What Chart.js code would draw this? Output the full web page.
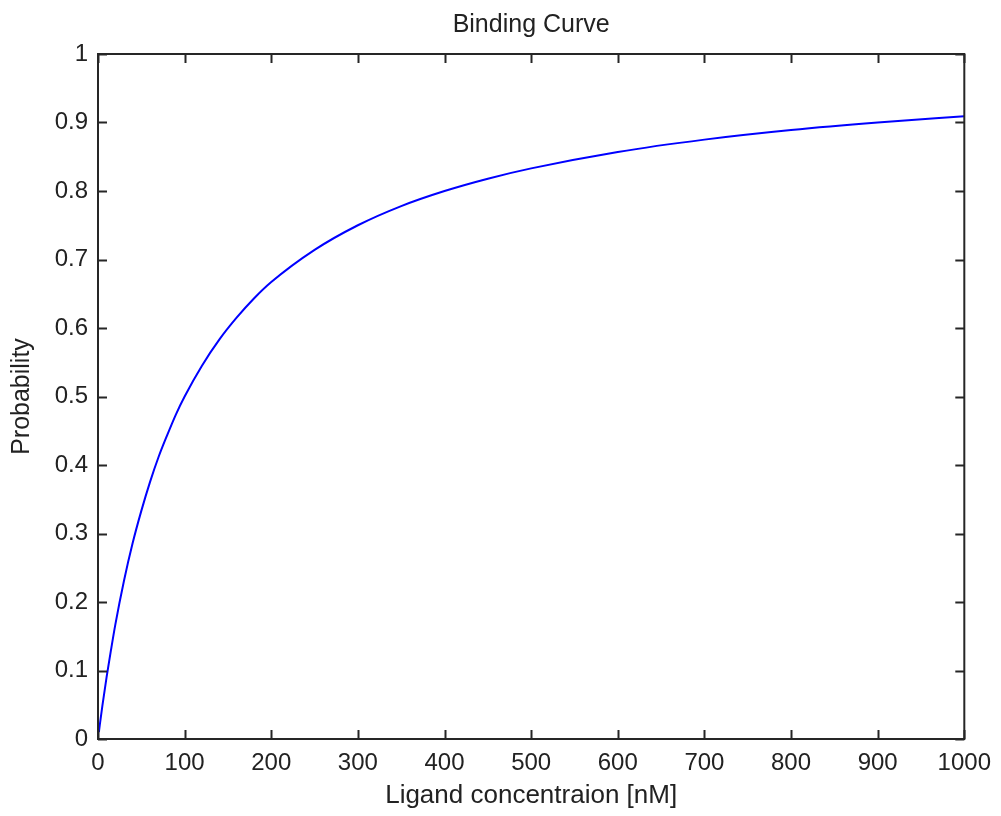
<!DOCTYPE html>
<html>
<head>
<meta charset="utf-8">
<script src="https://cdn.jsdelivr.net/npm/chart.js@4.4.1/dist/chart.umd.min.js"></script>
<style>
  html, body { margin: 0; padding: 0; background: #fff; }
  canvas { display: block; }
</style>
</head>
<body>
<canvas id="c" width="1001" height="816"></canvas>
<script>
// Data
const ligandConc = [1, 2, 5, 10, 15, 20, 30, 40, 50, 60, 70, 80, 90, 100, 120, 140, 160, 180, 200, 250, 300, 350, 400, 450, 500, 600, 700, 800, 900, 1000];
const probability = [0.01, 0.02, 0.048, 0.091, 0.13, 0.167, 0.231, 0.286, 0.333, 0.375, 0.412, 0.444, 0.474, 0.5, 0.545, 0.583, 0.615, 0.643, 0.667, 0.714, 0.75, 0.778, 0.8, 0.818, 0.833, 0.857, 0.875, 0.889, 0.9, 0.909];
const xTicks = [0, 100, 200, 300, 400, 500, 600, 700, 800, 900, 1000];
const yTicks = [0, 0.1, 0.2, 0.3, 0.4, 0.5, 0.6, 0.7, 0.8, 0.9, 1];
const titleText = 'Binding Curve';
const xLabel = 'Ligand concentraion [nM]';
const yLabel = 'Probability';

const AXIS = '#262626';
const TEXT = '#222';
const FONT = 'Liberation Sans, Arial, Helvetica, sans-serif';

const boxPlugin = {
  id: 'box',
  afterDraw(chart) {
    const ctx = chart.ctx;
    const a = chart.chartArea;
    const xs = chart.scales.x, ys = chart.scales.y;
    const tl = 9;
    ctx.save();
    ctx.strokeStyle = AXIS;
    ctx.lineWidth = 2;
    ctx.beginPath();
    xTicks.forEach(v => {
      const px = Math.round(xs.getPixelForValue(v)) + 0.5;
      ctx.moveTo(px, a.bottom); ctx.lineTo(px, a.bottom - tl);
      ctx.moveTo(px, a.top); ctx.lineTo(px, a.top + tl);
    });
    yTicks.forEach(v => {
      const py = Math.round(ys.getPixelForValue(v)) + 0.5;
      ctx.moveTo(a.left, py); ctx.lineTo(a.left + tl, py);
      ctx.moveTo(a.right, py); ctx.lineTo(a.right - tl, py);
    });
    ctx.stroke();
    ctx.strokeRect(a.left, a.top, a.right - a.left, a.bottom - a.top);
    ctx.restore();
  }
};

new Chart(document.getElementById('c'), {
  type: 'line',
  data: {
    datasets: [{
      data: ligandConc.map((x, i) => ({ x: x, y: probability[i] })),
      borderColor: '#0000ff',
      borderWidth: 2,
      pointRadius: 0,
      fill: false,
      cubicInterpolationMode: 'monotone'
    }]
  },
  options: {
    responsive: false,
    animation: false,
    layout: { padding: { left: 0, right: 34, top: 0, bottom: 0 } },
    plugins: {
      legend: { display: false },
      tooltip: { enabled: false },
      title: { display: false }
    },
    scales: {
      x: {
        type: 'linear',
        position: 'bottom',
        min: 0, max: 1000,
        afterFit(s) { s.height = 77; },
        afterBuildTicks(s) { s.ticks = xTicks.map(v => ({ value: v })); },
        ticks: {
          color: TEXT,
          font: { family: FONT, size: 24 },
          padding: 10,
          maxRotation: 0,
          autoSkip: false,
          callback: v => String(v)
        },
        grid: { display: false, drawTicks: false },
        border: { display: false },
        title: {
          display: true, text: xLabel, color: TEXT,
          font: { family: FONT, size: 26, lineHeight: 1.2 },
          padding: { top: 0, bottom: 4.5 }
        }
      },
      xTop: {
        type: 'linear',
        position: 'top',
        min: 0, max: 1000,
        afterFit(s) { s.height = 54; },
        ticks: { display: false },
        grid: { display: false, drawTicks: false },
        border: { display: false },
        title: {
          display: true, text: titleText, color: TEXT,
          font: { family: FONT, size: 25, lineHeight: 1.2 },
          padding: { top: 10, bottom: 0 }
        }
      },
      y: {
        type: 'linear',
        min: 0, max: 1,
        afterFit(s) { s.width = 98; },
        afterBuildTicks(s) { s.ticks = yTicks.map(v => ({ value: v })); },
        ticks: {
          color: TEXT,
          font: { family: FONT, size: 24 },
          padding: 10,
          autoSkip: false,
          callback: v => String(v)
        },
        grid: { display: false, drawTicks: false },
        border: { display: false },
        title: {
          display: true, text: yLabel, color: TEXT,
          font: { family: FONT, size: 25, lineHeight: 1.2 },
          padding: { top: 7, bottom: 0 }
        }
      }
    }
  },
  plugins: [boxPlugin]
});
</script>
</body>
</html>
